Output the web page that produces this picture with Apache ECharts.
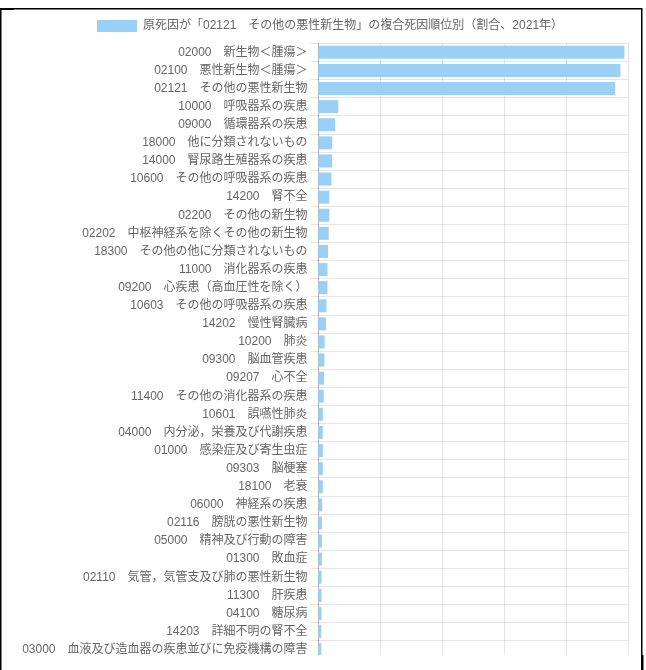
<!DOCTYPE html>
<html lang="ja">
<head>
<meta charset="utf-8">
<title>複合死因順位別</title>
<script src="https://cdn.jsdelivr.net/npm/echarts@6/dist/echarts.min.js"></script>
<style>
  html, body { margin: 0; padding: 0; background: #ffffff; }
  #chart { width: 646px; height: 670px; }
</style>
</head>
<body>
<div id="chart"></div>
<script>
// 原死因「02121 その他の悪性新生物」に対する複合死因の割合（%）
const seriesName = '原死因が「02121\u3000その他の悪性新生物」の複合死因順位別（割合、2021年）';

const categories = [
  '02000\u3000新生物＜腫瘍＞',
  '02100\u3000悪性新生物＜腫瘍＞',
  '02121\u3000その他の悪性新生物',
  '10000\u3000呼吸器系の疾患',
  '09000\u3000循環器系の疾患',
  '18000\u3000他に分類されないもの',
  '14000\u3000腎尿路生殖器系の疾患',
  '10600\u3000その他の呼吸器系の疾患',
  '14200\u3000腎不全',
  '02200\u3000その他の新生物',
  '02202\u3000中枢神経系を除くその他の新生物',
  '18300\u3000その他の他に分類されないもの',
  '11000\u3000消化器系の疾患',
  '09200\u3000心疾患（高血圧性を除く）',
  '10603\u3000その他の呼吸器系の疾患',
  '14202\u3000慢性腎臓病',
  '10200\u3000肺炎',
  '09300\u3000脳血管疾患',
  '09207\u3000心不全',
  '11400\u3000その他の消化器系の疾患',
  '10601\u3000誤嚥性肺炎',
  '04000\u3000内分泌，栄養及び代謝疾患',
  '01000\u3000感染症及び寄生虫症',
  '09303\u3000脳梗塞',
  '18100\u3000老衰',
  '06000\u3000神経系の疾患',
  '02116\u3000膀胱の悪性新生物',
  '05000\u3000精神及び行動の障害',
  '01300\u3000敗血症',
  '02110\u3000気管，気管支及び肺の悪性新生物',
  '11300\u3000肝疾患',
  '04100\u3000糖尿病',
  '14203\u3000詳細不明の腎不全',
  '03000\u3000血液及び造血器の疾患並びに免疫機構の障害'
];

const shares = [
  98.7, 97.4, 95.7, 6.4, 5.4, 4.4, 4.4, 4.2, 3.5, 3.5,
  3.3, 3.1, 2.9, 2.9, 2.6, 2.4, 2.0, 1.9, 1.8, 1.7,
  1.4, 1.4, 1.4, 1.4, 1.4, 1.2, 1.1, 1.1, 1.1, 1.0,
  1.0, 1.0, 0.9, 0.9
];

const xTicks = { min: 0, max: 100, interval: 20 };

const FONT = "'Liberation Sans', 'Noto Sans CJK JP', sans-serif";
const GRID_LINE = 'rgba(0,0,0,0.1)';
const BAR_COLOR = '#9ad0f5';
const BAND = 18.1;

const chart = echarts.init(document.getElementById('chart'), null, { renderer: 'canvas' });

chart.setOption({
  animation: false,
  backgroundColor: '#ffffff',
  textStyle: { fontFamily: FONT },
  legend: {
    top: 20,
    left: 97,
    padding: 0,
    itemWidth: 40,
    itemHeight: 12,
    itemGap: 10,
    icon: 'rect',
    selectedMode: false,
    textStyle: { fontSize: 12, color: '#666666', fontFamily: FONT, padding: [0, 0, 0, 1] },
    data: [seriesName]
  },
  grid: {
    left: 318.5,
    right: 17.5,
    top: 43.3,
    height: BAND * categories.length,
    containLabel: false
  },
  xAxis: {
    type: 'value',
    min: xTicks.min,
    max: xTicks.max,
    interval: xTicks.interval,
    axisLabel: { show: false },
    axisLine: { show: false },
    axisTick: { show: false },
    splitLine: { show: true, lineStyle: { color: GRID_LINE, width: 1 } }
  },
  yAxis: {
    type: 'category',
    inverse: true,
    data: categories,
    axisLine: { show: true, lineStyle: { color: 'rgba(0,0,0,0.22)', width: 1 } },
    axisTick: { show: true, length: 8, interval: 0, lineStyle: { color: GRID_LINE } },
    axisLabel: {
      interval: 0,
      margin: 11,
      fontSize: 12,
      color: '#666666',
      fontFamily: FONT
    },
    splitLine: { show: true, interval: 0, lineStyle: { color: GRID_LINE, width: 1 } }
  },
  series: [{
    name: seriesName,
    type: 'bar',
    data: shares,
    barWidth: '72%',
    itemStyle: { color: BAR_COLOR }
  }],
  graphic: [
    // white strip below the visible plot area
    { type: 'rect', z: 100, shape: { x: 2, y: 655, width: 638, height: 15 }, style: { fill: '#ffffff' } },
    // black frame lines
    { type: 'rect', z: 101, shape: { x: 0, y: 8, width: 641, height: 1.5 }, style: { fill: '#000000' } },
    { type: 'rect', z: 101, shape: { x: 0, y: 8, width: 14, height: 2 }, style: { fill: '#000000' } },
    { type: 'rect', z: 101, shape: { x: 0, y: 8, width: 1.5, height: 662 }, style: { fill: '#000000' } },
    { type: 'rect', z: 101, shape: { x: 641, y: 8, width: 1.5, height: 647 }, style: { fill: '#000000' } },
    { type: 'rect', z: 101, shape: { x: 641, y: 655, width: 2.5, height: 15 }, style: { fill: '#000000' } }
  ]
});
</script>
</body>
</html>
